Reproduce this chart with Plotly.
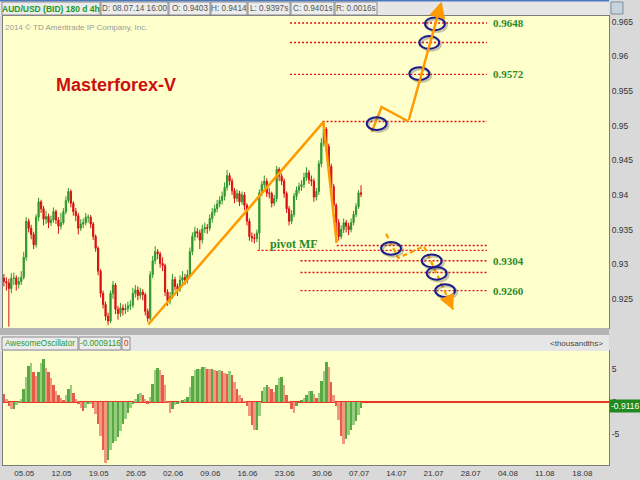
import plotly.graph_objects as go

# ---------------- data ----------------
# 8-hour bars, index 0 = Monday 05.05.2014 00:00 (15 bars per trading week)
bar_index = list(range(-4, 141))
first_open = 0.9280
closes = [
    0.9275, 0.9273, 0.9265, 0.9280,                                        # -4..-1
    0.9280, 0.9271, 0.9275, 0.9281, 0.9310, 0.9362, 0.9352, 0.9343, 0.9328, 0.9368,  # 0..9
    0.9390, 0.9380, 0.9365, 0.9369, 0.9360, 0.9364, 0.9376, 0.9364, 0.9355, 0.9360,  # 10..19
    0.9376, 0.9392, 0.9405, 0.9388, 0.9376, 0.9370, 0.9352, 0.9358, 0.9360, 0.9368,  # 20..29
    0.9368, 0.9358, 0.9340, 0.9323, 0.9290, 0.9258, 0.9242, 0.9225, 0.9218, 0.9258,  # 30..39
    0.9270, 0.9235, 0.9229, 0.9237, 0.9234, 0.9236, 0.9240, 0.9241, 0.9258, 0.9263,  # 40..49
    0.9255, 0.9260, 0.9256, 0.9232, 0.9222, 0.9285, 0.9305, 0.9318, 0.9315, 0.9301,  # 50..59
    0.9298, 0.9260, 0.9247, 0.9253, 0.9278, 0.9268, 0.9264, 0.9277, 0.9281, 0.9277,  # 60..69
    0.9285, 0.9318, 0.9340, 0.9347, 0.9345, 0.9335, 0.9351, 0.9353, 0.9352, 0.9366,  # 70..79
    0.9375, 0.9380, 0.9387, 0.9392, 0.9398, 0.9411, 0.9428, 0.9420, 0.9406, 0.9395,  # 80..89
    0.9402, 0.9390, 0.9400, 0.9385, 0.9362, 0.9340, 0.9338, 0.9337, 0.9345, 0.9403,  # 90..99
    0.9415, 0.9420, 0.9403, 0.9402, 0.9388, 0.9395, 0.9437, 0.9427, 0.9420, 0.9402,  # 100..109
    0.9380, 0.9362, 0.9372, 0.9398, 0.9407, 0.9412, 0.9415, 0.9425, 0.9432, 0.9422,  # 110..119
    0.9420, 0.9397, 0.9405, 0.9445, 0.9475, 0.9495, 0.9470, 0.9441, 0.9412, 0.9385,  # 120..129
    0.9360, 0.9340, 0.9350, 0.9360, 0.9355, 0.9350, 0.9360, 0.9372, 0.9383, 0.9403,  # 130..139
    0.9401,                                                                 # 140
]
highs = [
    0.9286, 0.9281, 0.9279, 0.9287,
    0.9288, 0.9284, 0.9282, 0.9290, 0.9318, 0.9368, 0.9366, 0.9357, 0.9347, 0.9372,
    0.9396, 0.9393, 0.9384, 0.9377, 0.9373, 0.9370, 0.9382, 0.9379, 0.9368, 0.9374,
    0.9381, 0.9398, 0.9410, 0.9408, 0.9391, 0.9381, 0.9374, 0.9365, 0.9366, 0.9374,
    0.9372, 0.9371, 0.9361, 0.9343, 0.9326, 0.9293, 0.9262, 0.9246, 0.9230, 0.9262,
    0.9276, 0.9273, 0.9240, 0.9244, 0.9242, 0.9243, 0.9246, 0.9248, 0.9266, 0.9270,
    0.9268, 0.9266, 0.9264, 0.9259, 0.9236, 0.9290, 0.9312, 0.9326, 0.9322, 0.9318,
    0.9310, 0.9301, 0.9264, 0.9260, 0.9286, 0.9282, 0.9272, 0.9284, 0.9290, 0.9286,
    0.9292, 0.9324, 0.9346, 0.9354, 0.9352, 0.9350, 0.9357, 0.9360, 0.9358, 0.9372,
    0.9381, 0.9386, 0.9393, 0.9398, 0.9405, 0.9418, 0.9436, 0.9432, 0.9424, 0.9410,
    0.9408, 0.9406, 0.9405, 0.9404, 0.9388, 0.9366, 0.9346, 0.9344, 0.9350, 0.9408,
    0.9420, 0.9428, 0.9424, 0.9410, 0.9405, 0.9400, 0.9442, 0.9440, 0.9431, 0.9424,
    0.9405, 0.9384, 0.9378, 0.9403, 0.9412, 0.9418, 0.9421, 0.9432, 0.9440, 0.9436,
    0.9428, 0.9424, 0.9410, 0.9450, 0.9482, 0.9506, 0.9498, 0.9474, 0.9445, 0.9416,
    0.9388, 0.9365, 0.9356, 0.9366, 0.9364, 0.9360, 0.9366, 0.9377, 0.9388, 0.9407,
    0.9414,
]
lows = [
    0.9268, 0.9262, 0.9210, 0.9258,
    0.9270, 0.9262, 0.9265, 0.9270, 0.9278, 0.9305, 0.9346, 0.9336, 0.9322, 0.9324,
    0.9362, 0.9374, 0.9356, 0.9358, 0.9352, 0.9355, 0.9360, 0.9358, 0.9344, 0.9350,
    0.9357, 0.9372, 0.9388, 0.9382, 0.9370, 0.9362, 0.9343, 0.9348, 0.9352, 0.9356,
    0.9360, 0.9352, 0.9335, 0.9318, 0.9284, 0.9252, 0.9236, 0.9219, 0.9212, 0.9215,
    0.9250, 0.9228, 0.9220, 0.9224, 0.9226, 0.9228, 0.9231, 0.9234, 0.9237, 0.9252,
    0.9248, 0.9250, 0.9248, 0.9226, 0.9217, 0.9219, 0.9280, 0.9300, 0.9307, 0.9295,
    0.9290, 0.9254, 0.9240, 0.9242, 0.9250, 0.9262, 0.9254, 0.9260, 0.9272, 0.9270,
    0.9272, 0.9280, 0.9313, 0.9334, 0.9338, 0.9322, 0.9330, 0.9345, 0.9344, 0.9348,
    0.9360, 0.9370, 0.9375, 0.9382, 0.9386, 0.9392, 0.9406, 0.9414, 0.9400, 0.9388,
    0.9390, 0.9384, 0.9386, 0.9378, 0.9356, 0.9334, 0.9332, 0.9330, 0.9332, 0.9321,
    0.9398, 0.9410, 0.9397, 0.9395, 0.9382, 0.9384, 0.9390, 0.9420, 0.9414, 0.9396,
    0.9374, 0.9356, 0.9358, 0.9368, 0.9393, 0.9402, 0.9406, 0.9410, 0.9420, 0.9416,
    0.9413, 0.9390, 0.9392, 0.9400, 0.9440, 0.9470, 0.9462, 0.9435, 0.9405, 0.9378,
    0.9331, 0.9334, 0.9336, 0.9345, 0.9346, 0.9342, 0.9346, 0.9356, 0.9368, 0.9380,
    0.9397,
]
opens = [first_open] + closes[:-1]

# Awesome Oscillator, in thousandths
ao_values = [
    1.2, 0.4, -0.6, -1.2,
    -1.2, -0.5, -0.1, 0.4, 2.0, 3.8, 5.5, 6.0, 4.6, 3.9,
    4.6, 6.0, 6.6, 5.2, 4.5, 3.7, 2.5, 1.7, 1.1, 0.6,
    0.3, 1.0, 1.9, 2.6, 1.3, 0.4, -0.3, -1.0, -1.4, -0.9,
    -0.4, -0.4, -0.9, -1.9, -3.4, -5.3, -7.5, -9.4, -9.0, -7.5,
    -6.3, -6.0, -5.4, -4.5, -3.4, -2.6, -1.7, -0.9, -0.4, 0.4,
    1.2, 1.4, 1.1, 0.4, -0.4, 0.8, 2.7, 4.9, 5.2, 4.9,
    4.1, 2.5, -0.2, -1.8, -1.1, -0.5, -0.4, -0.1, 0.3, 0.4,
    0.8, 2.2, 3.9, 4.9, 5.0, 5.0, 5.3, 5.4, 5.1, 5.0,
    5.0, 4.9, 4.7, 4.9, 4.7, 4.4, 4.2, 4.8, 4.1, 3.0,
    2.0, 1.1, 0.6, 0.1, -0.6, -2.2, -3.6, -4.4, -4.3, -2.2,
    1.6, 2.3, 2.5, 2.3, 1.9, 1.5, 2.6, 3.6, 3.8, 2.6,
    1.0, 0.1, -1.2, -1.8, -0.7, 0.0, 0.3, 0.6, 1.0, 1.6,
    1.6, 1.2, 0.5, 1.3, 3.2, 4.8, 6.1, 5.4, 3.0, 1.0,
    -0.6, -2.8, -5.3, -6.5, -5.8, -5.1, -4.3, -3.6, -2.9, -2.0,
    -0.9,
]

week_bars = [0, 15, 30, 45, 60, 75, 90, 105, 120, 135, 150, 165, 180, 195, 210, 225]
week_labels = ["05.05", "12.05", "19.05", "26.05", "02.06", "09.06", "16.06", "23.06",
               "30.06", "07.07", "14.07", "21.07", "28.07", "04.08", "11.08", "18.08"]

price_ticks = [0.925, 0.93, 0.935, 0.94, 0.945, 0.95, 0.955, 0.96, 0.965]
price_tick_text = ["0.925", "0.93", "0.935", "0.94", "0.945", "0.95", "0.955", "0.96", "0.965"]
ao_ticks = [5, 0, -5]
ao_tick_text = ["5", "0", "-5"]

# analyst drawings, in (bar index, price)
level_prices = [0.9648, 0.9620, 0.9574, 0.9506, 0.9327, 0.9320, 0.9305, 0.9288, 0.9262]
level_starts = [111.4, 111.4, 111.4, 124.5, 130.2, 98.3, 115.6, 115.6, 115.6]
level_end = 190.8
level_label_prices = [0.9648, 0.9574, 0.9305, 0.9262]
level_label_texts = ["0.9648", "0.9572", "0.9304", "0.9260"]
level_label_bar = 192.6
pivot_label = ("pivot MF", 102.3, 0.9329)

trend_x = [54.2, 124.8, 130.2]
trend_y = [0.9213, 0.9505, 0.9331]
up_x = [144.3, 148.3, 159.1]
up_y = [0.9491, 0.9527, 0.9506]
up_tip = (172.5, 0.9679)
down_x = [150.1, 155.0, 165.4, 177.2]
down_y = [0.9344, 0.9309, 0.9326, 0.9234]
ellipse_x = [146.3, 169.8, 167.5, 163.5, 152.1, 168.5, 170.5, 173.9]
ellipse_y = [0.9503, 0.9647, 0.9620, 0.9575, 0.9323, 0.9305, 0.9287, 0.9262]
ellipse_rx, ellipse_ry = 4.0, 0.00092

# ---------------- layout geometry ----------------
W, H = 640, 480
ML, MR, MT, MB = 3, 31, 16, 15
PW, PH = W - ML - MR, H - MT - MB


def fx(px):
    return (px - ML) / PW


def fy(py):
    return (H - MB - py) / PH


GREEN_TXT = "#2a8a2a"
ORANGE = "#ff9a00"
FONT = "Liberation Sans, Arial, sans-serif"
SERIF = "Liberation Serif, Times New Roman, serif"

fig = go.Figure()

# dotted level lines
for p, s in zip(level_prices, level_starts):
    fig.add_trace(go.Scatter(x=[s, level_end], y=[p, p], mode="lines",
                             line=dict(color="#e01010", width=1.4, dash="2px,2px"),
                             hoverinfo="skip", showlegend=False, xaxis="x", yaxis="y"))

fig.add_trace(go.Candlestick(
    x=bar_index, open=opens, high=highs, low=lows, close=closes,
    increasing=dict(line=dict(color="#2f962f", width=1), fillcolor="#2f962f"),
    decreasing=dict(line=dict(color="#d81010", width=1), fillcolor="#d81010"),
    whiskerwidth=0, showlegend=False, xaxis="x", yaxis="y"))

fig.add_trace(go.Scatter(x=trend_x, y=trend_y, mode="lines",
                         line=dict(color=ORANGE, width=2.5), showlegend=False,
                         hoverinfo="skip", xaxis="x", yaxis="y"))
fig.add_trace(go.Scatter(x=up_x, y=up_y, mode="lines",
                         line=dict(color=ORANGE, width=2.5), showlegend=False,
                         hoverinfo="skip", xaxis="x", yaxis="y"))
fig.add_trace(go.Scatter(x=down_x, y=down_y, mode="lines",
                         line=dict(color=ORANGE, width=2.2, dash="5px,3px"), showlegend=False,
                         hoverinfo="skip", xaxis="x", yaxis="y"))

# Awesome oscillator bars
ao_colors = []
for i, v in enumerate(ao_values):
    rising = i > 0 and v >= ao_values[i - 1]
    if rising:
        ao_colors.append("#5aa840" if i % 2 == 0 else "#98cc80")
    else:
        ao_colors.append("#e65c46" if i % 2 == 0 else "#f09880")
fig.add_trace(go.Bar(x=bar_index, y=ao_values, marker=dict(color=ao_colors, line=dict(width=0)),
                     showlegend=False, xaxis="x2", yaxis="y2"))

shapes = []
# chrome: header bars and separators (paper coordinates)
shapes.append(dict(type="rect", xref="paper", yref="paper", x0=fx(0), x1=fx(609), y0=fy(16), y1=fy(0),
                   fillcolor="#e6e6e6", line=dict(width=0), layer="below"))
shapes.append(dict(type="rect", xref="paper", yref="paper", x0=fx(0), x1=fx(609), y0=fy(1.5), y1=fy(0),
                   fillcolor="#4a78c0", line=dict(width=0)))
shapes.append(dict(type="rect", xref="paper", yref="paper", x0=fx(0), x1=fx(609), y0=fy(335), y1=fy(328),
                   fillcolor="#b4b4b4", line=dict(width=0)))
shapes.append(dict(type="rect", xref="paper", yref="paper", x0=fx(0), x1=fx(609), y0=fy(351), y1=fy(335),
                   fillcolor="#e6e6e6", line=dict(width=0)))
# small icon at the top of the price scale
shapes.append(dict(type="rect", xref="paper", yref="paper", x0=fx(611), x1=fx(623), y0=fy(14), y1=fy(2),
                   fillcolor="#c6d2dc", line=dict(color="#7f8f9f", width=1)))

header_boxes = [
    ("AUD/USD (BID) 180 d 4h", 2, 100, "#1e9a1e", True),
    ("D: 08.07.14 16:00", 101, 168, "#555555", False),
    ("O: 0.9403", 169, 210, "#555555", False),
    ("H: 0.9414", 211, 247, "#555555", False),
    ("L: 0.9397s", 248, 290, "#555555", False),
    ("C: 0.9401s", 291, 334, "#555555", False),
    ("R: 0.0016s", 335, 377, "#555555", False),
]
osc_boxes = [
    ("AwesomeOscillator", 2, 78, "#2a9a2a", False),
    ("-0.0009116", 79, 121, "#2a9a2a", False),
    ("0", 122, 130, "#e02020", False),
]

annotations = []
for boxes, y0, y1 in ((header_boxes, 2, 15), (osc_boxes, 337, 350)):
    for text, x0, x1, col, bold in boxes:
        shapes.append(dict(type="rect", xref="paper", yref="paper", x0=fx(x0), x1=fx(x1),
                           y0=fy(y1), y1=fy(y0), fillcolor="#ececec",
                           line=dict(color="#8c8c8c", width=1)))
        annotations.append(dict(xref="paper", yref="paper", x=fx((x0 + x1) / 2), y=fy((y0 + y1) / 2),
                                xanchor="center", yanchor="middle", showarrow=False,
                                text=f"<b>{text}</b>" if bold else text,
                                font=dict(family=FONT, size=8.5 if bold else 8.2, color=col)))

annotations.append(dict(xref="paper", yref="paper", x=fx(605), y=fy(343.5), xanchor="right",
                        yanchor="middle", showarrow=False, text="&lt;thousandths&gt;",
                        font=dict(family=FONT, size=8, color="#444444")))
annotations.append(dict(xref="paper", yref="paper", x=fx(3), y=fy(27), xanchor="left",
                        yanchor="middle", showarrow=False, text="2014 © TD Ameritrade IP Company, Inc.",
                        font=dict(family=FONT, size=8, color="#9a9a9a")))
annotations.append(dict(xref="paper", yref="paper", x=fx(54), y=fy(85), xanchor="left",
                        yanchor="middle", showarrow=False, text="<b>Masterforex-V</b>",
                        font=dict(family=FONT, size=18, color="#cc1010")))
annotations.append(dict(xref="paper", yref="paper", x=fx(609), y=fy(406), xanchor="left",
                        yanchor="middle", showarrow=False, text="-0.9116", bgcolor="#1f8a1f",
                        borderpad=1, font=dict(family=FONT, size=8.5, color="#ffffff")))

# level labels
for p, t in zip(level_label_prices, level_label_texts):
    annotations.append(dict(xref="x", yref="y", x=level_label_bar, y=p, xanchor="left",
                            yanchor="middle", showarrow=False, text=f"<b>{t}</b>",
                            font=dict(family=SERIF, size=11, color=GREEN_TXT)))
annotations.append(dict(xref="x", yref="y", x=pivot_label[1], y=pivot_label[2], xanchor="left",
                        yanchor="middle", showarrow=False, text=f"<b>{pivot_label[0]}</b>",
                        font=dict(family=SERIF, size=12, color=GREEN_TXT)))

# arrows
annotations.append(dict(xref="x", yref="y", axref="x", ayref="y", x=up_tip[0], y=up_tip[1],
                        ax=up_x[-1], ay=up_y[-1], text="", showarrow=True, arrowhead=2,
                        arrowsize=1.3, arrowwidth=2.5, arrowcolor=ORANGE, standoff=0))
tail_x = down_x[-2] + 0.8 * (down_x[-1] - down_x[-2])
tail_y = down_y[-2] + 0.8 * (down_y[-1] - down_y[-2])
annotations.append(dict(xref="x", yref="y", axref="x", ayref="y", x=down_x[-1], y=down_y[-1],
                        ax=tail_x, ay=tail_y, text="", showarrow=True, arrowhead=2,
                        arrowsize=1.4, arrowwidth=2.2, arrowcolor=ORANGE, standoff=0))

# ellipses with soft shadow
for cx, cy in zip(ellipse_x, ellipse_y):
    shapes.append(dict(type="circle", xref="x", yref="y", x0=cx - ellipse_rx + 0.7, x1=cx + ellipse_rx + 0.7,
                       y0=cy - ellipse_ry - 0.00025, y1=cy + ellipse_ry - 0.00025,
                       line=dict(color="rgba(90,90,90,0.35)", width=2.5)))
    shapes.append(dict(type="circle", xref="x", yref="y", x0=cx - ellipse_rx, x1=cx + ellipse_rx,
                       y0=cy - ellipse_ry, y1=cy + ellipse_ry,
                       line=dict(color="#1c1c8c", width=2)))

x_range = [-4.355, 239.99]
axis_common = dict(showgrid=False, zeroline=False, showline=True, linecolor="#7c7c7c",
                   linewidth=1, mirror=True, ticks="", ticklen=0)

fig.update_layout(
    width=W, height=H,
    margin=dict(l=ML, r=MR, t=MT, b=MB, pad=0),
    paper_bgcolor="#d9d9d9", plot_bgcolor="#ffffcc",
    showlegend=False, bargap=0,
    font=dict(family=FONT, size=9, color="#333333"),
    xaxis=dict(domain=[0, 1], range=x_range, anchor="y", showticklabels=False,
               rangeslider=dict(visible=False), **axis_common),
    yaxis=dict(domain=[fy(328), 1], range=[0.92080, 0.96582], side="right", anchor="x",
               tickvals=price_ticks, ticktext=price_tick_text,
               tickfont=dict(family=FONT, size=8.5, color="#333333"), **axis_common),
    xaxis2=dict(domain=[0, 1], range=x_range, anchor="y2", matches="x",
                tickvals=week_bars, ticktext=week_labels, ticklabelposition="outside right",
                tickfont=dict(family=FONT, size=8, color="#333333"), **axis_common),
    yaxis2=dict(domain=[0, fy(351)], range=[-9.74, 7.8], side="right", anchor="x2",
                tickvals=ao_ticks, ticktext=ao_tick_text,
                tickfont=dict(family=FONT, size=8.5, color="#333333"),
                showgrid=False, zeroline=True, zerolinecolor="#ee3322", zerolinewidth=1.5,
                showline=True, linecolor="#7c7c7c", linewidth=1, mirror=True, ticks="", ticklen=0),
    shapes=shapes,
    annotations=annotations,
)

fig.write_html("out.html", config={"displayModeBar": False},
               post_script="document.body.style.margin='0';document.body.style.overflow='hidden';")
